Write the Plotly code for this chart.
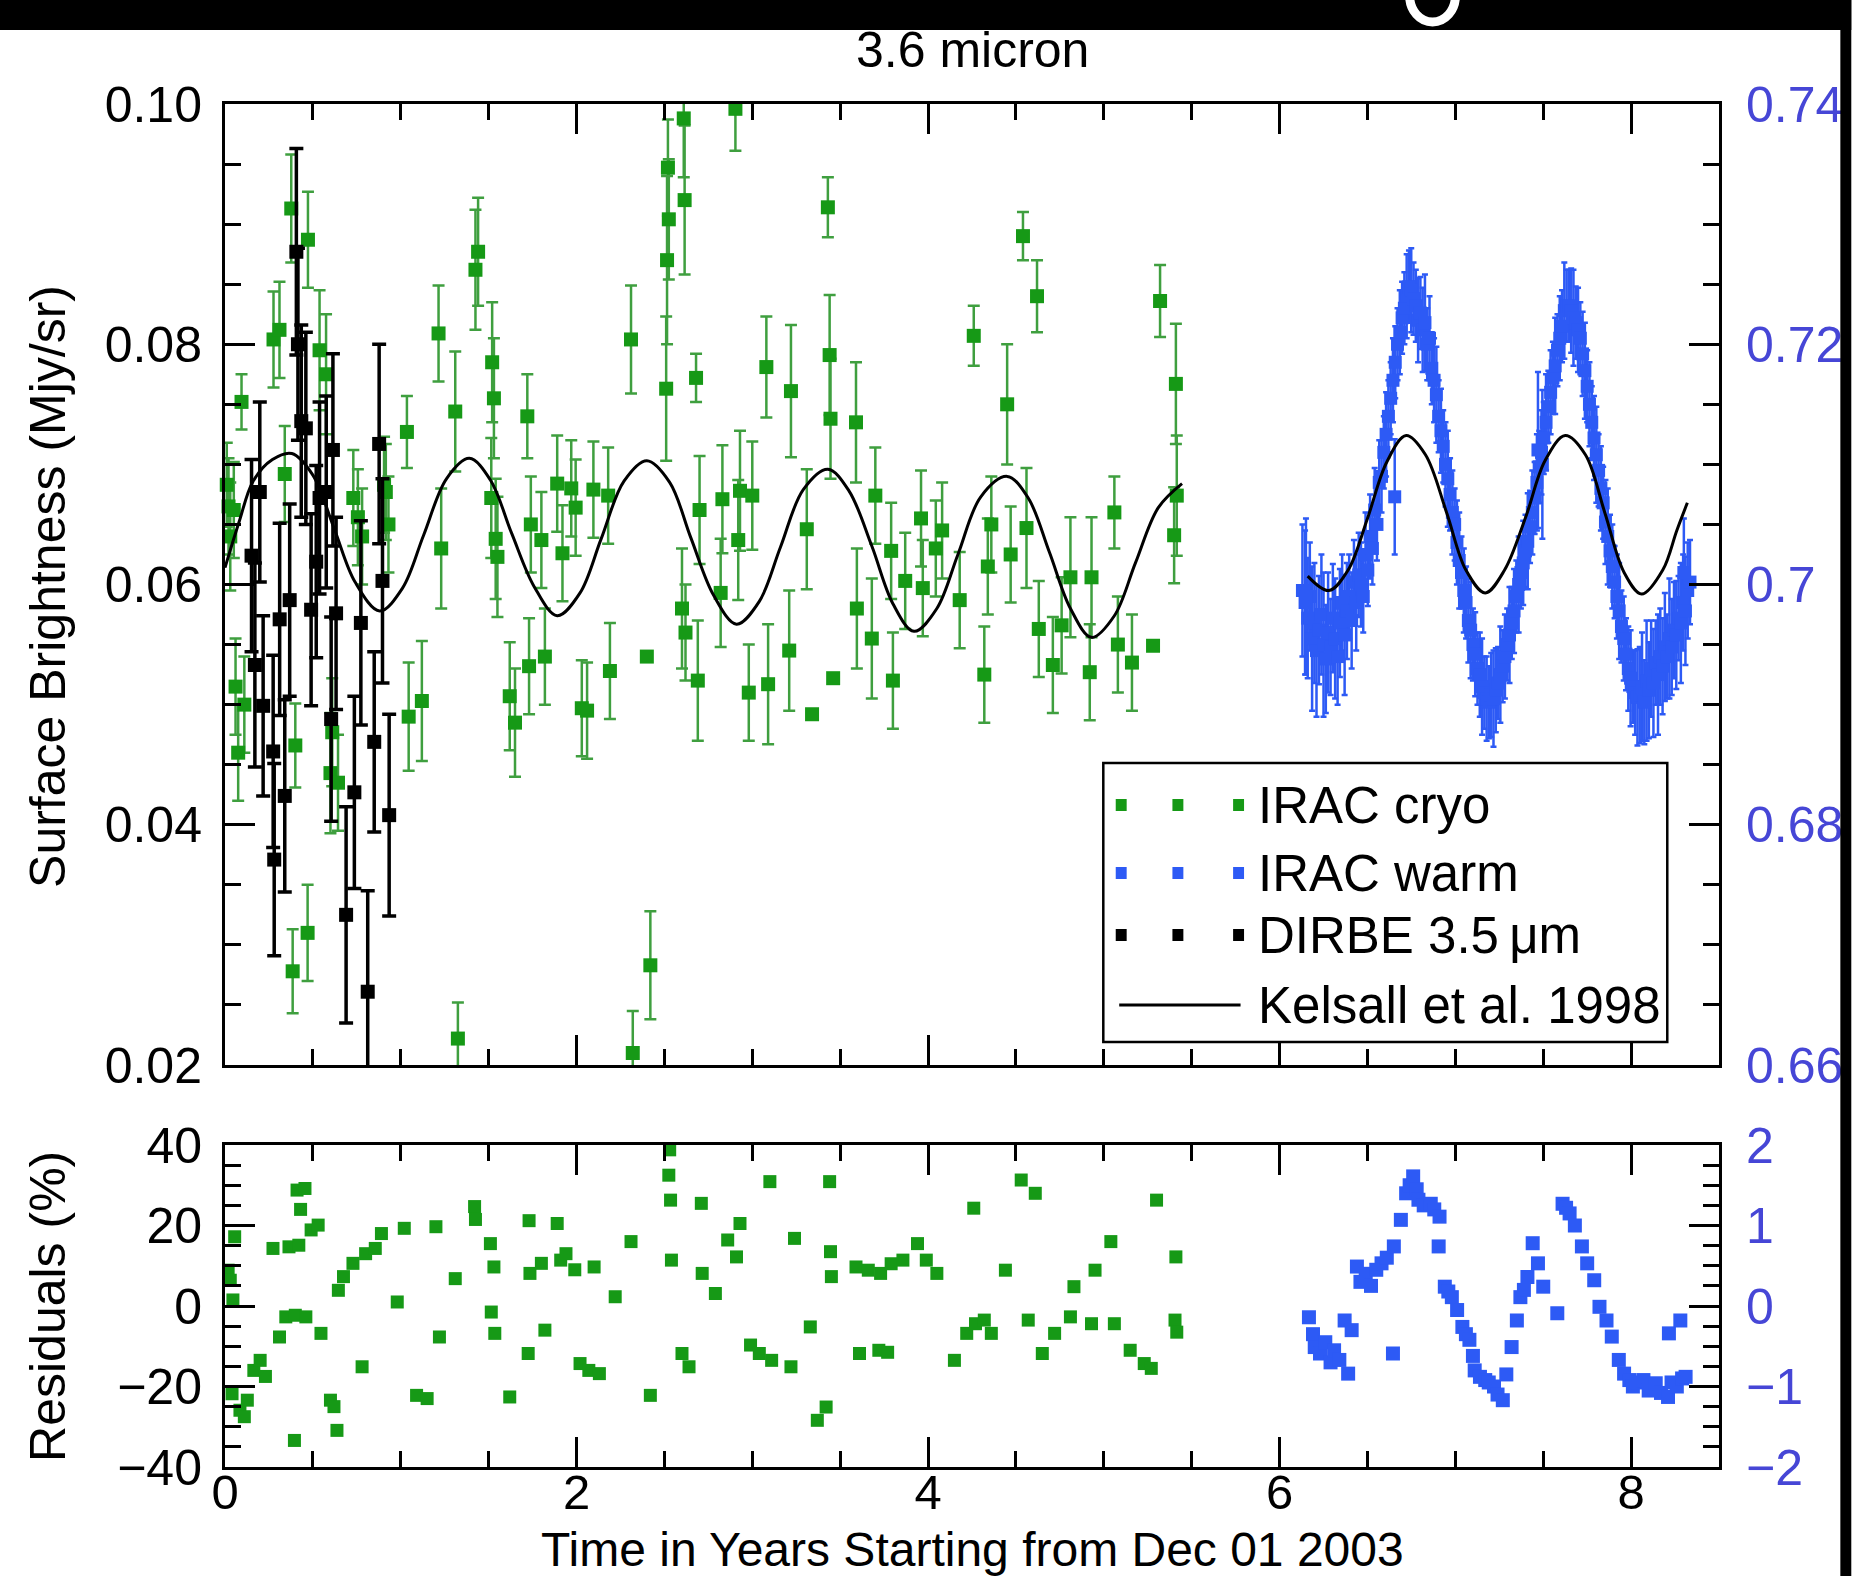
import plotly.graph_objects as go

# ---------------- data ----------------
# IRAC cryo (green), left axis, MJy/sr
cryo_t = [0.010, 0.020, 0.030, 0.050, 0.060, 0.075, 0.094, 0.110, 0.276, 0.310,
          0.340, 0.377, 0.385, 0.400, 0.470, 0.472, 0.538, 0.575, 0.600, 0.610,
          0.643, 0.730, 0.756, 0.780, 0.905, 0.915, 0.930, 1.035, 1.045, 1.120,
          1.215, 1.230, 1.310, 1.325, 1.425, 1.440, 1.515, 1.520, 1.530, 1.540,
          1.550, 1.620, 1.650, 1.720, 1.730, 1.740, 1.800, 1.820, 1.890, 1.920,
          1.970, 1.995, 2.030, 2.060, 2.096, 2.180, 2.190, 2.310, 2.320, 2.400,
          2.420, 2.510, 2.515, 2.520, 2.525, 2.600, 2.610, 2.615, 2.620, 2.680,
          2.690, 2.700, 2.820, 2.830, 2.904, 2.920, 2.930, 2.980, 3.000, 3.080,
          3.090, 3.210, 3.220, 3.310, 3.340, 3.430, 3.440, 3.445, 3.460, 3.590,
          3.595, 3.680, 3.700, 3.790, 3.800, 3.870, 3.960, 3.970, 4.044, 4.080,
          4.180, 4.260, 4.320, 4.340, 4.360, 4.450, 4.470, 4.540, 4.560, 4.620,
          4.630, 4.710, 4.760, 4.810, 4.920, 4.930, 5.060, 5.080, 5.160, 5.280,
          5.320, 5.400, 5.410, 5.415]
cryo_v = [0.0683, 0.0665, 0.0640, 0.0662, 0.0515, 0.0460, 0.0752, 0.0500, 0.0804, 0.0812,
          0.0692, 0.0913, 0.0278, 0.0466, 0.0310, 0.0887, 0.0795, 0.0775, 0.0443, 0.0477,
          0.0435, 0.0672, 0.0656, 0.0640, 0.0683, 0.0677, 0.0650, 0.0727, 0.0490, 0.0503,
          0.0809, 0.0630, 0.0744, 0.0222, 0.0862, 0.0877, 0.0672, 0.0785, 0.0755, 0.0638,
          0.0623, 0.0507, 0.0485, 0.0740, 0.0532, 0.0650, 0.0637, 0.0540, 0.0684, 0.0626,
          0.0680, 0.0664, 0.0497, 0.0495, 0.0679, 0.0674, 0.0528, 0.0804, 0.0210, 0.0540,
          0.0283, 0.0763, 0.0870, 0.0947, 0.0904, 0.0580, 0.0988, 0.0920, 0.0560, 0.0772,
          0.0520, 0.0662, 0.0593, 0.0671, 0.0996, 0.0637, 0.0678, 0.0510, 0.0674, 0.0781,
          0.0517, 0.0545, 0.0761, 0.0646, 0.0492, 0.0914, 0.0791, 0.0738, 0.0522, 0.0735,
          0.0580, 0.0555, 0.0674, 0.0628, 0.0520, 0.0603, 0.0655, 0.0597, 0.0630, 0.0645,
          0.0587, 0.0807, 0.0525, 0.0615, 0.0650, 0.0750, 0.0625, 0.0890, 0.0647, 0.0840,
          0.0563, 0.0533, 0.0566, 0.0606, 0.0527, 0.0606, 0.0660, 0.0550, 0.0535, 0.0549,
          0.0836, 0.0641, 0.0767, 0.0674]
cryo_err = [0.0035, 0.004, 0.0045, 0.004, 0.004, 0.004, 0.0023, 0.004, 0.004, 0.004,
            0.004, 0.0045, 0.0035, 0.0035, 0.004, 0.004, 0.005, 0.005, 0.005, 0.0045,
            0.004, 0.004, 0.004, 0.004, 0.004, 0.004, 0.004, 0.003, 0.0045, 0.005,
            0.004, 0.005, 0.005, 0.003, 0.005, 0.0045, 0.005, 0.005, 0.005, 0.005,
            0.005, 0.0045, 0.0045, 0.0035, 0.004, 0.004, 0.004, 0.004, 0.004, 0.004,
            0.004, 0.004, 0.004, 0.004, 0.004, 0.004, 0.004, 0.0045, 0.0035, 0.0,
            0.0045, 0.006, 0.007, 0.004, 0.005, 0.005, 0.0049, 0.0062, 0.004, 0.002,
            0.005, 0.0045, 0.0045, 0.0045, 0.0035, 0.005, 0.005, 0.004, 0.0045, 0.0042,
            0.005, 0.005, 0.0055, 0.005, 0.0, 0.0025, 0.005, 0.005, 0.0, 0.005,
            0.005, 0.005, 0.004, 0.004, 0.004, 0.004, 0.004, 0.004, 0.004, 0.004,
            0.004, 0.0025, 0.004, 0.004, 0.004, 0.005, 0.004, 0.002, 0.005, 0.003,
            0.004, 0.004, 0.004, 0.005, 0.004, 0.005, 0.003, 0.004, 0.004, 0.0,
            0.003, 0.004, 0.005, 0.005]

# DIRBE 3.5 um (black), left axis
dirbe_t = [0.151, 0.170, 0.198, 0.217, 0.274, 0.280, 0.311, 0.340, 0.368, 0.406,
           0.415, 0.434, 0.460, 0.490, 0.519, 0.538, 0.576, 0.604, 0.614, 0.632,
           0.689, 0.736, 0.773, 0.812, 0.849, 0.877, 0.896, 0.934]
dirbe_v = [0.0624, 0.0533, 0.0677, 0.0499, 0.0461, 0.0371, 0.0571, 0.0424, 0.0587, 0.0877,
           0.0800, 0.0736, 0.0730, 0.0579, 0.0619, 0.0672, 0.0677, 0.0488, 0.0712, 0.0576,
           0.0325, 0.0427, 0.0568, 0.0261, 0.0469, 0.0717, 0.0603, 0.0408]
dirbe_err = [0.008, 0.0085, 0.0075, 0.0075, 0.008, 0.008, 0.008, 0.008, 0.008, 0.0086,
             0.008, 0.008, 0.008, 0.008, 0.008, 0.008, 0.008, 0.0085, 0.008, 0.008,
             0.0090, 0.008, 0.0085, 0.0084, 0.0075, 0.0083, 0.0085, 0.0084]

# IRAC warm (blue), right axis
warm_t = [6.130, 6.145, 6.160, 6.172, 6.185, 6.198, 6.210, 6.224, 6.238, 6.250,
          6.263, 6.276, 6.290, 6.303, 6.316, 6.330, 6.343, 6.356, 6.370, 6.383,
          6.396, 6.410, 6.423, 6.436, 6.450,
          6.463, 6.476, 6.489, 6.502, 6.515, 6.528, 6.541, 6.554, 6.567, 6.580,
          6.593, 6.606, 6.619, 6.632, 6.645, 6.658, 6.671, 6.684, 6.697, 6.710,
          6.723, 6.736, 6.749, 6.762,
          6.775, 6.788, 6.801, 6.814, 6.827, 6.840, 6.853, 6.866, 6.879, 6.892,
          6.905, 6.918, 6.931, 6.944, 6.957, 6.970, 6.983, 6.996, 7.009, 7.022,
          7.035, 7.048, 7.061, 7.074, 7.087, 7.100, 7.113, 7.126, 7.139, 7.152,
          7.165, 7.178, 7.191, 7.204, 7.217,
          7.230, 7.243, 7.256, 7.269, 7.282, 7.295, 7.308, 7.321, 7.334, 7.347,
          7.360, 7.373, 7.386, 7.399, 7.412, 7.425, 7.438, 7.451, 7.464, 7.477,
          7.490, 7.503, 7.516, 7.529, 7.542, 7.555, 7.568, 7.581, 7.594, 7.607,
          7.620, 7.633,
          7.646, 7.659, 7.672, 7.685, 7.698, 7.711, 7.724, 7.737, 7.750, 7.763,
          7.776, 7.789, 7.802, 7.815, 7.828, 7.841, 7.854, 7.867, 7.880, 7.893,
          7.906, 7.919, 7.932, 7.945, 7.958, 7.971, 7.984, 7.997, 8.010, 8.023,
          8.036,
          8.049, 8.062, 8.075, 8.088, 8.101, 8.114, 8.127, 8.140, 8.153, 8.166,
          8.179, 8.192, 8.205, 8.218, 8.231, 8.244, 8.257, 8.270, 8.283, 8.296,
          8.309, 8.322, 8.335,
          6.150, 6.655, 7.470, 7.495, 8.300]
warm_v = [0.6995, 0.6985, 0.6972, 0.6990, 0.6955, 0.6968, 0.6945, 0.6962, 0.6975, 0.6950,
          0.6938, 0.6960, 0.6948, 0.6972, 0.6955, 0.6940, 0.6968, 0.6985, 0.6958, 0.6978,
          0.6990, 0.6970, 0.7002, 0.6985, 0.7008,
          0.7000, 0.6990, 0.7025, 0.7012, 0.7040, 0.7030, 0.7062, 0.7050, 0.7085, 0.7090,
          0.7110, 0.7125, 0.7140, 0.7155, 0.7170, 0.7185, 0.7200, 0.7210, 0.7222, 0.7230,
          0.7240, 0.7248, 0.7245, 0.7238,
          0.7232, 0.7220, 0.7226, 0.7212, 0.7218, 0.7200, 0.7205, 0.7180, 0.7170, 0.7158,
          0.7140, 0.7128, 0.7115, 0.7100, 0.7088, 0.7075, 0.7060, 0.7050, 0.7035, 0.7020,
          0.7010, 0.6995, 0.6985, 0.6970, 0.6962, 0.6950, 0.6942, 0.6930, 0.6925, 0.6915,
          0.6910, 0.6905, 0.6902, 0.6908, 0.6905,
          0.6912, 0.6918, 0.6925, 0.6932, 0.6940, 0.6950, 0.6958, 0.6968, 0.6978, 0.6990,
          0.7000, 0.7010, 0.7018, 0.7028, 0.7036, 0.7048, 0.7060, 0.7072, 0.7085, 0.7098,
          0.7110, 0.7122, 0.7135, 0.7148, 0.7160, 0.7172, 0.7182, 0.7195, 0.7205, 0.7215,
          0.7228, 0.7232,
          0.7232, 0.7228, 0.7222, 0.7218, 0.7212, 0.7205, 0.7192, 0.7178, 0.7165, 0.7150,
          0.7135, 0.7122, 0.7108, 0.7095, 0.7080, 0.7068, 0.7052, 0.7040, 0.7028, 0.7015,
          0.7002, 0.6990, 0.6978, 0.6965, 0.6955, 0.6942, 0.6930, 0.6922, 0.6915, 0.6910,
          0.6906,
          0.6908, 0.6915, 0.6902, 0.6920, 0.6912, 0.6930, 0.6918, 0.6935, 0.6925, 0.6940,
          0.6932, 0.6948, 0.6940, 0.6955, 0.6948, 0.6962, 0.6958, 0.6972, 0.6968, 0.6985,
          0.6978, 0.6995, 0.7002,
          0.6990, 0.7073, 0.7112, 0.7100, 0.7010]
warm_err = [0.0055, 0.006, 0.005, 0.0045, 0.006, 0.005, 0.0055, 0.0045, 0.005, 0.006,
            0.0045, 0.005, 0.004, 0.0045, 0.005, 0.004, 0.0045, 0.004, 0.005, 0.004,
            0.0035, 0.004, 0.0035, 0.004, 0.0035,
            0.0035, 0.003, 0.0035, 0.003, 0.0035, 0.003, 0.0035, 0.003, 0.0035, 0.003,
            0.003, 0.0035, 0.003, 0.003, 0.0035, 0.003, 0.003, 0.0035, 0.003, 0.003,
            0.0035, 0.003, 0.0035, 0.003,
            0.003, 0.0035, 0.003, 0.0035, 0.004, 0.003, 0.0035, 0.003, 0.0035, 0.004,
            0.003, 0.0035, 0.003, 0.0035, 0.004, 0.003, 0.0035, 0.003, 0.0035, 0.004,
            0.003, 0.0035, 0.003, 0.0035, 0.004, 0.003, 0.0035, 0.003, 0.0035, 0.004,
            0.003, 0.0035, 0.003, 0.0035, 0.004,
            0.0035, 0.003, 0.004, 0.003, 0.0035, 0.003, 0.004, 0.003, 0.0035, 0.003,
            0.004, 0.003, 0.0035, 0.003, 0.004, 0.003, 0.0035, 0.003, 0.004, 0.003,
            0.0035, 0.003, 0.004, 0.003, 0.0035, 0.003, 0.004, 0.003, 0.0035, 0.003,
            0.004, 0.003,
            0.003, 0.0035, 0.004, 0.003, 0.0035, 0.003, 0.0035, 0.004, 0.003, 0.0035,
            0.003, 0.0035, 0.004, 0.003, 0.0035, 0.003, 0.0035, 0.004, 0.003, 0.0035,
            0.003, 0.0035, 0.004, 0.003, 0.0035, 0.003, 0.0035, 0.004, 0.003, 0.0035,
            0.004,
            0.004, 0.0045, 0.0035, 0.005, 0.004, 0.004, 0.0045, 0.0035, 0.005, 0.004,
            0.004, 0.0045, 0.0035, 0.005, 0.004, 0.004, 0.0045, 0.0035, 0.005, 0.004,
            0.0045, 0.004, 0.0035,
            0.0065, 0.0048, 0.0065, 0.0062, 0.0045]

# Kelsall et al. 1998 model curve
kel_cryo_t = [0.00, 0.08, 0.16, 0.27, 0.38, 0.50, 0.62, 0.74, 0.88, 1.01,
              1.13, 1.26, 1.39, 1.51, 1.63, 1.76, 1.89, 2.02, 2.14, 2.27,
              2.40, 2.53, 2.65, 2.78, 2.91, 3.04, 3.16, 3.29, 3.43, 3.55,
              3.68, 3.80, 3.92, 4.05, 4.17, 4.30, 4.45, 4.57, 4.69, 4.81,
              4.93, 5.06, 5.18, 5.31, 5.445]
kel_cryo_v = [0.0614, 0.0652, 0.0686, 0.0704, 0.0709, 0.0691, 0.0647, 0.0602, 0.0578, 0.0597,
              0.0641, 0.0688, 0.0705, 0.0687, 0.0643, 0.0598, 0.0574, 0.0593, 0.0638, 0.0686,
              0.0703, 0.0685, 0.0639, 0.0591, 0.0567, 0.0586, 0.0631, 0.0679, 0.0696, 0.0678,
              0.0632, 0.0584, 0.0561, 0.0580, 0.0625, 0.0673, 0.0690, 0.0672, 0.0627, 0.0580,
              0.0556, 0.0574, 0.0618, 0.0664, 0.0684]
kel_warm_t = [6.16, 6.28, 6.39, 6.50, 6.61, 6.72, 6.83, 6.95, 7.06, 7.17,
              7.28, 7.40, 7.51, 7.625, 7.74, 7.85, 7.96, 8.06, 8.18, 8.26, 8.32]
kel_warm_v = [0.7007, 0.6995, 0.7012, 0.7055, 0.7102, 0.7124, 0.7108, 0.7060, 0.7012, 0.6993,
              0.7012, 0.7056, 0.7103, 0.7124, 0.7108, 0.7060, 0.7010, 0.6992, 0.7012, 0.7045, 0.7068]

# residuals (%)
res_cryo_t = [0.018, 0.030, 0.045, 0.055, 0.040, 0.085, 0.110, 0.127, 0.164, 0.200,
              0.230, 0.273, 0.310, 0.346, 0.364, 0.395, 0.400, 0.410, 0.420, 0.430,
              0.455, 0.460, 0.490, 0.530, 0.546, 0.600, 0.620, 0.637, 0.645, 0.674,
              0.728, 0.780, 0.800, 0.855, 0.890, 0.980, 1.020, 1.090, 1.150, 1.200,
              1.220, 1.310, 1.420, 1.425, 1.510, 1.515, 1.530, 1.535, 1.620, 1.725,
              1.730, 1.735, 1.800, 1.820, 1.890, 1.910, 1.940, 1.990, 2.020, 2.070,
              2.100, 2.130, 2.220, 2.310, 2.420, 2.525, 2.530, 2.535, 2.540, 2.600,
              2.640, 2.710, 2.715, 2.790, 2.860, 2.910, 2.930, 2.990, 3.040, 3.100,
              3.110, 3.220, 3.240, 3.330, 3.370, 3.420, 3.440, 3.445, 3.450, 3.590,
              3.610, 3.660, 3.720, 3.730, 3.770, 3.790, 3.857, 3.940, 3.990, 4.050,
              4.150, 4.220, 4.260, 4.270, 4.320, 4.360, 4.440, 4.530, 4.570, 4.610,
              4.650, 4.720, 4.810, 4.830, 4.930, 4.950, 5.040, 5.060, 5.150, 5.230,
              5.270, 5.300, 5.405, 5.410, 5.415]
res_cryo_v = [8.9, 6.4, 1.5, 17.2, -21.8, -25.9, -27.5, -23.4, -16.0, -13.5,
              -17.5, 14.3, -7.7, -2.7, 14.7, -33.4, -2.3, 28.8, 15.1, 24.0,
              29.2, -2.7, 18.9, 20.1, -6.8, -23.4, -25.0, -30.9, 3.9, 7.3,
              10.6, -15.1, 13.0, 14.3, 18.0, 1.0, 19.3, -22.2, -23.0, 19.7,
              -7.7, 6.8, 24.7, 21.5, 15.5, -1.5, 9.7, -6.8, -22.6, -11.8,
              21.2, 8.1, 10.6, -6.0, 20.5, 11.4, 13.0, 9.0, -14.3, -16.0,
              9.7, -16.8, 2.3, 16.0, -22.2, 32.5, 38.8, 26.3, 11.4, -11.8,
              -15.1, 25.5, 8.1, 3.1, 16.4, 12.2, 20.5, -9.7, -11.8, 30.9,
              -13.5, -15.1, 16.8, -5.2, -28.4, -25.1, 30.9, 13.5, 7.3, 9.7,
              -11.8, 8.9, -11.0, 8.1, -11.5, 10.5, 11.4, 15.5, 11.4, 8.1,
              -13.5, -6.8, 24.3, -4.4, -3.5, -6.8, 8.9, 31.3, -3.5, 28.0,
              -11.8, -6.8, -2.7, 4.8, -4.4, 8.9, 16.0, -4.4, -11.0, -14.3,
              -15.5, 26.3, -3.5, 12.2, -6.5]
res_warm_t = [6.167, 6.190, 6.200, 6.230, 6.260, 6.290, 6.310, 6.340, 6.370, 6.390,
              6.410, 6.440, 6.460, 6.490, 6.520, 6.550, 6.580, 6.610, 6.645, 6.650,
              6.690, 6.720, 6.740, 6.760, 6.780, 6.790, 6.820, 6.860, 6.880, 6.905,
              6.910, 6.940, 6.960, 6.980, 7.010, 7.040, 7.060, 7.080, 7.100, 7.110,
              7.140, 7.170, 7.190, 7.220, 7.240, 7.270, 7.290, 7.320, 7.350, 7.370,
              7.390, 7.410, 7.440, 7.470, 7.500, 7.580, 7.610, 7.630, 7.650, 7.680,
              7.720, 7.750, 7.790, 7.820, 7.860, 7.890, 7.930, 7.960, 7.990, 8.010,
              8.040, 8.070, 8.100, 8.140, 8.170, 8.210, 8.215, 8.230, 8.260, 8.280,
              8.290, 8.310]
res_warm_v = [-0.14, -0.35, -0.51, -0.59, -0.45, -0.70, -0.55, -0.67, -0.18, -0.84,
              -0.30, 0.49, 0.30, 0.40, 0.25, 0.45, 0.53, 0.60, -0.59, 0.74,
              1.07, 1.40, 1.50, 1.61, 1.45, 1.32, 1.25, 1.27, 1.20, 0.74,
              1.11, 0.24, 0.18, 0.11, -0.05, -0.26, -0.35, -0.42, -0.62, -0.80,
              -0.88, -0.92, -0.95, -1.00, -1.10, -1.17, -0.85, -0.51, -0.18, 0.11,
              0.20, 0.36, 0.78, 0.53, 0.24, -0.09, 1.27, 1.22, 1.15, 1.00,
              0.74, 0.53, 0.32, -0.01, -0.18, -0.38, -0.67, -0.84, -0.92, -1.00,
              -0.95, -0.92, -1.05, -0.96, -1.08, -1.13, -0.34, -0.95, -1.00, -0.18,
              -0.90, -0.88]

# tick labels
left_tick_vals = [0.02, 0.04, 0.06, 0.08, 0.10]
left_tick_text = ["0.02", "0.04", "0.06", "0.08", "0.10"]
right_tick_vals = [0.66, 0.68, 0.70, 0.72, 0.74]
right_tick_text = ["0.66", "0.68", "0.7", "0.72", "0.74"]
res_left_vals = [-40, -20, 0, 20, 40]
res_left_text = ["\u221240", "\u221220", "0", "20", "40"]
res_right_vals = [-2, -1, 0, 1, 2]
res_right_text = ["\u22122", "\u22121", "0", "1", "2"]
legend_labels = ["IRAC cryo", "IRAC warm", "DIRBE 3.5\u2009\u03bcm", "Kelsall et al. 1998"]

# ---------------- layout geometry ----------------
W, H = 1855, 1576
ML, MR, MT, MB = 225, 128, 104, 109
PW, PH = W - ML - MR, H - MT - MB


def px(x):
    return (x - ML) / PW


def py(y):
    return (H - MB - y) / PH


FONT = "Liberation Sans, Arial, Helvetica, sans-serif"
GREEN = "#169916"
GREEN_ERR = "#3f9f3f"
BLUE = "#2d5af5"
BLUE_LBL = "#4646d6"

fig = go.Figure()
fig.add_trace(go.Scatter(
    x=cryo_t, y=cryo_v, mode="markers", xaxis="x", yaxis="y",
    marker=dict(symbol="square", size=14, color=GREEN),
    error_y=dict(type="data", array=cryo_err, color=GREEN_ERR, thickness=2.5, width=6),
    cliponaxis=False, showlegend=False))
fig.add_trace(go.Scatter(
    x=dirbe_t, y=dirbe_v, mode="markers", xaxis="x", yaxis="y",
    marker=dict(symbol="square", size=14, color="black"),
    error_y=dict(type="data", array=dirbe_err, color="black", thickness=3.5, width=7),
    cliponaxis=False, showlegend=False))
fig.add_trace(go.Scatter(
    x=kel_cryo_t, y=kel_cryo_v, mode="lines", xaxis="x", yaxis="y",
    line=dict(color="black", width=3, shape="spline"), showlegend=False))
fig.add_trace(go.Scatter(
    x=warm_t, y=warm_v, mode="markers", xaxis="x", yaxis="y2",
    marker=dict(symbol="square", size=13, color=BLUE),
    error_y=dict(type="data", array=warm_err, color=BLUE, thickness=2.5, width=3),
    cliponaxis=False, showlegend=False))
fig.add_trace(go.Scatter(
    x=kel_warm_t, y=kel_warm_v, mode="lines", xaxis="x", yaxis="y2",
    line=dict(color="black", width=3, shape="spline"), showlegend=False))
fig.add_trace(go.Scatter(
    x=res_cryo_t, y=res_cryo_v, mode="markers", xaxis="x2", yaxis="y3",
    marker=dict(symbol="square", size=13, color=GREEN), showlegend=False))
fig.add_trace(go.Scatter(
    x=res_warm_t, y=res_warm_v, mode="markers", xaxis="x2", yaxis="y4",
    marker=dict(symbol="square", size=14, color=BLUE), showlegend=False))

tickfont = dict(family=FONT, size=50, color="black")
common = dict(showgrid=False, zeroline=False, showline=True, linecolor="black", linewidth=3,
              ticks="inside", tickcolor="black", tickwidth=2.5, ticklen=30, mirror="ticks",
              tickfont=tickfont)


def minor(d):
    return dict(dtick=d, ticks="inside", ticklen=16, tickwidth=2.5, tickcolor="black")


top_bottom = py(1065)
bot_top = py(1145)

fig.update_layout(
    width=W, height=H, autosize=False,
    margin=dict(l=ML, r=MR, t=MT, b=MB, pad=0),
    paper_bgcolor="white", plot_bgcolor="white",
    showlegend=False,
    xaxis=dict(common, domain=[0, 1], anchor="y", range=[0, 8.5], tick0=0, dtick=2,
               showticklabels=False, minor=minor(0.5)),
    yaxis=dict(common, domain=[top_bottom, 1], anchor="x", range=[0.02, 0.10],
               tickmode="array", tickvals=left_tick_vals, ticktext=left_tick_text,
               ticklabelstandoff=10, minor=minor(0.005)),
    yaxis2=dict(overlaying="y", side="right", anchor="x", range=[0.66, 0.74],
                tickmode="array", tickvals=right_tick_vals, ticktext=right_tick_text,
                ticks="", showline=False, showgrid=False, zeroline=False,
                tickfont=dict(family=FONT, size=50, color=BLUE_LBL), ticklabelstandoff=26),
    xaxis2=dict(common, domain=[0, 1], anchor="y3", range=[0, 8.5], tick0=0, dtick=2,
                ticklabelstandoff=-20, tickfont=dict(family=FONT, size=49, color="black"),
                minor=minor(0.5)),
    yaxis3=dict(common, domain=[0, bot_top], anchor="x2", range=[-40, 40],
                tickmode="array", tickvals=res_left_vals, ticktext=res_left_text,
                ticklabelstandoff=10, minor=minor(5)),
    yaxis4=dict(overlaying="y3", side="right", anchor="x2", range=[-2, 2],
                tickmode="array", tickvals=res_right_vals, ticktext=res_right_text,
                ticks="", showline=False, showgrid=False, zeroline=False,
                tickfont=dict(family=FONT, size=50, color=BLUE_LBL), ticklabelstandoff=26),
)

annotations = [
    dict(text="3.6 micron", x=0.5, y=py(50), xref="paper", yref="paper",
         xanchor="center", yanchor="middle", showarrow=False,
         font=dict(family=FONT, size=50, color="black")),
    dict(text="Time in Years Starting from Dec 01 2003", x=0.5, y=py(1549),
         xref="paper", yref="paper", xanchor="center", yanchor="middle", showarrow=False,
         font=dict(family=FONT, size=48, color="black")),
    dict(text="Surface Brightness (Mjy/sr)", x=px(47), y=py(586), xref="paper", yref="paper",
         xanchor="center", yanchor="middle", textangle=-90, showarrow=False,
         font=dict(family=FONT, size=50, color="black")),
    dict(text="Residuals (%)", x=px(47), y=py(1306), xref="paper", yref="paper",
         xanchor="center", yanchor="middle", textangle=-90, showarrow=False,
         font=dict(family=FONT, size=50, color="black")),
]
rows_y = [805, 873, 935, 1005]
for lbl, ry in zip(legend_labels, rows_y):
    annotations.append(dict(text=lbl, x=px(1262), y=py(ry), xref="paper", yref="paper",
                            xanchor="left", yanchor="middle", showarrow=False,
                            font=dict(family=FONT, size=51, color="black")))

shapes = [
    # legend frame
    dict(type="rect", xref="paper", yref="paper", x0=px(1108), x1=px(1675),
         y0=py(1042), y1=py(763), line=dict(color="black", width=2.5), fillcolor="white",
         layer="above"),
    # legend line sample
    dict(type="line", xref="paper", yref="paper", x0=px(1124), x1=px(1246),
         y0=py(1005), y1=py(1005), line=dict(color="black", width=3), layer="above"),
    # black frame pieces of the slide
    dict(type="rect", xref="paper", yref="paper", x0=px(-5), x1=px(1860),
         y0=py(30), y1=py(-5), line=dict(width=0), fillcolor="black", layer="above"),
    dict(type="rect", xref="paper", yref="paper", x0=px(1849), x1=px(1860),
         y0=py(1580), y1=py(-5), line=dict(width=0), fillcolor="black", layer="above"),
    dict(type="circle", xref="paper", yref="paper", x0=px(1416), x1=px(1462),
         y0=py(22), y1=py(-30), line=dict(color="white", width=9), layer="above"),
]
sample_cols = [GREEN, BLUE, "black"]
for col, ry in zip(sample_cols, rows_y[:3]):
    for cx in (1126, 1183, 1244):
        shapes.append(dict(type="rect", xref="paper", yref="paper",
                           x0=px(cx - 5.5), x1=px(cx + 5.5), y0=py(ry + 6), y1=py(ry - 6),
                           line=dict(width=0), fillcolor=col, layer="above"))

fig.update_layout(annotations=annotations, shapes=shapes)

fig.write_html("out.html",
               config={"displayModeBar": False, "responsive": False},
               post_script="document.body.style.margin='0px';"
                           "document.body.style.overflow='hidden';")
